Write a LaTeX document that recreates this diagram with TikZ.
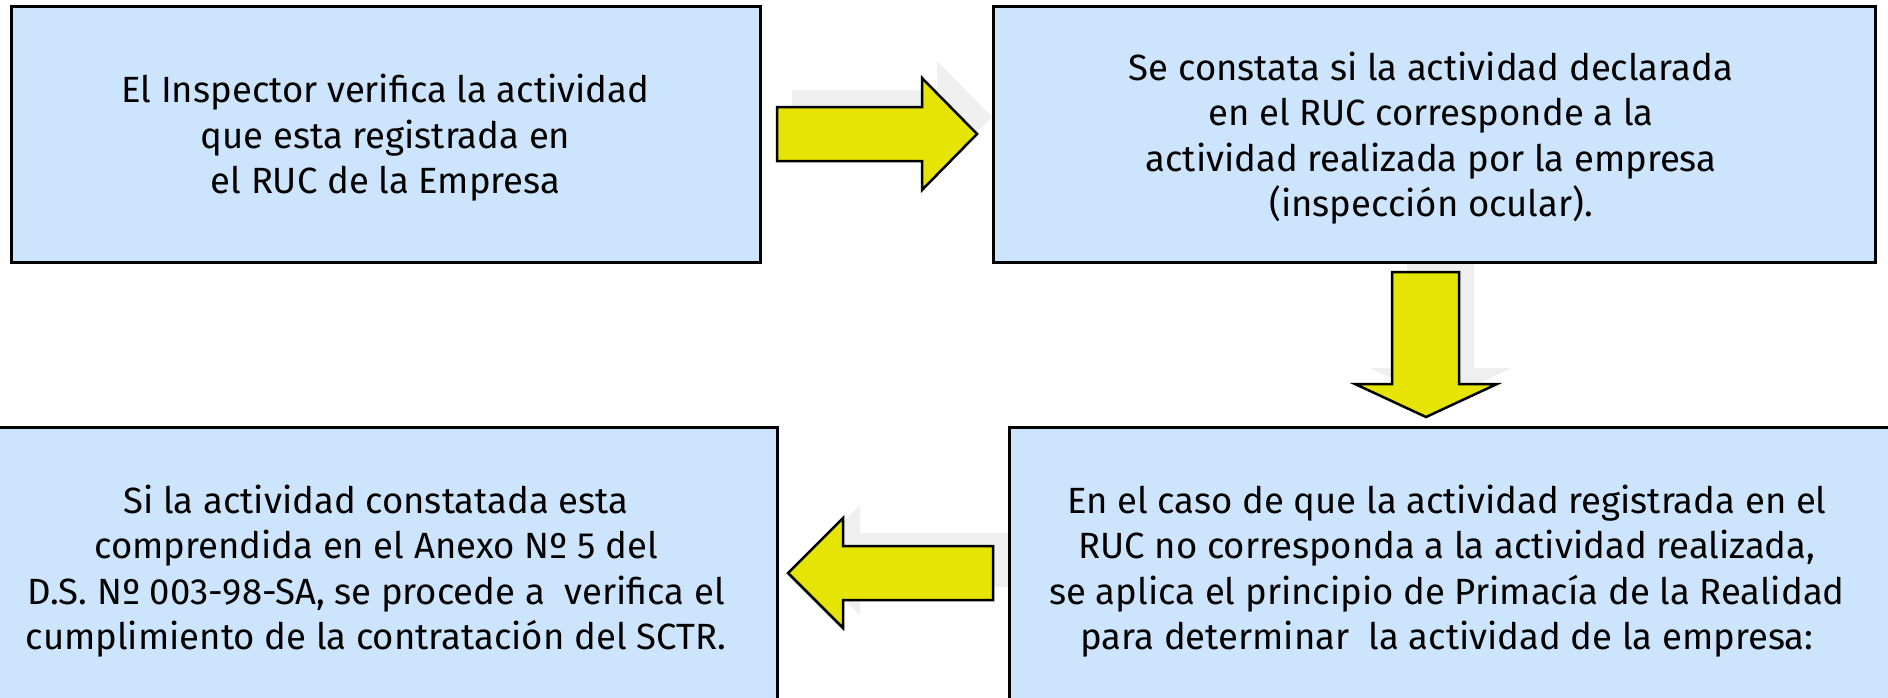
\documentclass[tikz,border=0pt]{standalone}
\usepackage{fontspec}
\setmainfont{Fira Sans}
\usetikzlibrary{calc}
\definecolor{boxblue}{RGB}{204,228,252}
\definecolor{arrowyellow}{RGB}{230,228,5}
\definecolor{shadowgrey}{RGB}{239,239,239}
\tikzset{
	stepbox/.style={draw=black, line width=3pt, fill=boxblue, rectangle, inner sep=0pt},
	steptext/.style={align=center, inner sep=0pt, font=\fontsize{36.5}{45.5}\selectfont},
	blockarrow/.style={draw=black, line width=2.5pt, fill=arrowyellow, line join=miter},
	arrowshadow/.style={fill=shadowgrey}
}

\begin{document}
\begin{tikzpicture}[x=1pt, y=-1pt]
		%%%%% START %%%%%
		\useasboundingbox (0, 0) rectangle (1888, 697);
		
		% shadows of the arrows
		\fill[arrowshadow, shift={(15, -17)}] (777, 107) -- (922, 107) -- (922, 78) -- (977, 134) -- (922, 190) -- (922, 161) -- (777, 161) -- cycle;
		\fill[arrowshadow, shift={(15, -16)}] (1392, 272) -- (1459, 272) -- (1459, 384) -- (1497, 384) -- (1426, 417) -- (1355, 384) -- (1392, 384) -- cycle;
		\fill[arrowshadow, shift={(17, -13)}] (993, 546) -- (843, 546) -- (843, 518) -- (788, 573) -- (843, 628) -- (843, 600) -- (993, 600) -- cycle;
		
		% boxes
		\node[stepbox, minimum width=749, minimum height=256] (inspector) at (385.5, 134) {};
		\node[stepbox, minimum width=882, minimum height=256] (constata) at (1434, 134) {};
		\node[stepbox, minimum width=827, minimum height=300] (sctr) at (363.5, 577) {};
		\node[stepbox, minimum width=921, minimum height=300] (primacia) at (1469.5, 577) {};
		
		% texts
		\node[steptext] (inspectortext) at (385.5, 138) {El Inspector verifica la actividad\\ que esta registrada en\\ el RUC de la Empresa};
		\node[steptext] (constatatext) at (1431, 138) {Se constata si la actividad declarada\\ en el RUC corresponde a la\\ actividad realizada por la empresa\\ (inspección ocular).};
		\node[steptext] (sctrtext) at (376, 571) {Si la actividad constatada esta\\ comprendida en el Anexo Nº 5 del\\ D.S. Nº 003-98-SA, se procede a\ \ verifica el\\ cumplimiento de la contratación del SCTR.};
		\node[steptext] (primaciatext) at (1447, 571) {En el caso de que la actividad registrada en el\\ RUC no corresponda a la actividad realizada,\\ se aplica el principio de Primacía de la Realidad\\ para determinar\ \ la actividad de la empresa:};
		
		% arrows
		\draw[blockarrow] (777, 107) -- (922, 107) -- (922, 78) -- (977, 134) -- (922, 190) -- (922, 161) -- (777, 161) -- cycle;
		\draw[blockarrow] (1392, 272) -- (1459, 272) -- (1459, 384) -- (1497, 384) -- (1426, 417) -- (1355, 384) -- (1392, 384) -- cycle;
		\draw[blockarrow] (993, 546) -- (843, 546) -- (843, 518) -- (788, 573) -- (843, 628) -- (843, 600) -- (993, 600) -- cycle;
		
		%%%%% END %%%%%
\end{tikzpicture}
\end{document}
